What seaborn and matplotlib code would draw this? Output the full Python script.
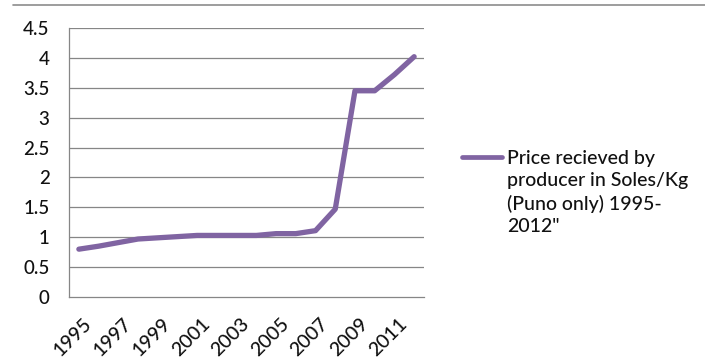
import matplotlib
matplotlib.use("Agg")
import matplotlib.pyplot as plt
import matplotlib.transforms as mtransforms
from matplotlib.lines import Line2D
import numpy as np
import pandas as pd
import seaborn as sns

years = [str(y) for y in range(1995, 2013)]
price = [0.80, 0.85, 0.91, 0.97, 0.99, 1.01, 1.03, 1.03, 1.03, 1.03,
         1.06, 1.06, 1.11, 1.47, 3.45, 3.45, 3.72, 4.02]
series_label = "Price recieved by\nproducer in Soles/Kg\n(Puno only) 1995-\n2012\""
y_ticks = [0, 0.5, 1, 1.5, 2, 2.5, 3, 3.5, 4, 4.5]
y_tick_labels = ["0", "0.5", "1", "1.5", "2", "2.5", "3", "3.5", "4", "4.5"]

sns.set_style("white")
plt.rcParams["font.family"] = ["Lato", "DejaVu Sans"]

df = pd.DataFrame({"year": years, "price": price})
pos = np.arange(len(years))
df["pos"] = pos

fig = plt.figure(figsize=(7.05, 3.58), dpi=100)
ax = fig.add_axes([69 / 705, 1 - 297 / 358, (424 - 69) / 705, (297 - 28) / 358])

grid_c = "#868686"
line_c = "#8064A2"
text_c = "#111111"

sns.lineplot(data=df, x="pos", y="price", ax=ax, color=line_c, linewidth=3.8,
             label=series_label, solid_capstyle="round", solid_joinstyle="round")

ax.set_xlim(-0.5, len(years) - 0.5)
ax.set_ylim(0, 4.5)
ax.set_yticks(y_ticks)
ax.set_yticklabels(y_tick_labels, fontsize=13.5, fontweight="medium", color=text_c)
for y in y_ticks[1:]:
    ax.axhline(y, color=grid_c, linewidth=0.9, zorder=0)

ax.set_xticks(pos[::2])
ax.set_xticklabels(years[::2], rotation=45, ha="right", va="top",
                   rotation_mode="anchor", fontsize=14, fontweight="medium",
                   color=text_c)
ax.set_xticks(np.arange(-0.5, len(years)), minor=True)
ax.tick_params(axis="x", which="major", length=0, pad=13)
ax.tick_params(axis="x", which="minor", length=5, width=0.9, color=grid_c, direction="out")
ax.tick_params(axis="y", which="major", length=7, width=0.9, color=grid_c,
               direction="out", pad=7)
ax.set_xlabel("")
ax.set_ylabel("")

# nudge the rotated year labels slightly to the right
shift = mtransforms.ScaledTranslation(4 / 100, 0, fig.dpi_scale_trans)
for lbl in ax.get_xticklabels():
    lbl.set_transform(lbl.get_transform() + shift)

for side in ["top", "right"]:
    ax.spines[side].set_visible(False)
for side in ["left", "bottom"]:
    ax.spines[side].set_color(grid_c)
    ax.spines[side].set_linewidth(0.9)

leg = ax.legend(loc="upper left", bbox_to_anchor=(1.107, 0.545), frameon=False,
                prop={"size": 14, "weight": "medium"}, handlelength=2.05,
                handletextpad=0.25, borderaxespad=0, borderpad=0)
for t in leg.get_texts():
    t.set_linespacing(1.35)
    t.set_color(text_c)
leg._legend_box.align = "left"
for column in leg._legend_handle_box.get_children():
    for item in column.get_children():
        item.align = "top"
for h in leg.legend_handles:
    h.set_linewidth(3.4)

fig.add_artist(Line2D([13 / 705, 1.0], [1 - 5 / 358, 1 - 5 / 358],
                      color="#8c8c8c", linewidth=1.2))

fig.savefig("out.png", dpi=100)
